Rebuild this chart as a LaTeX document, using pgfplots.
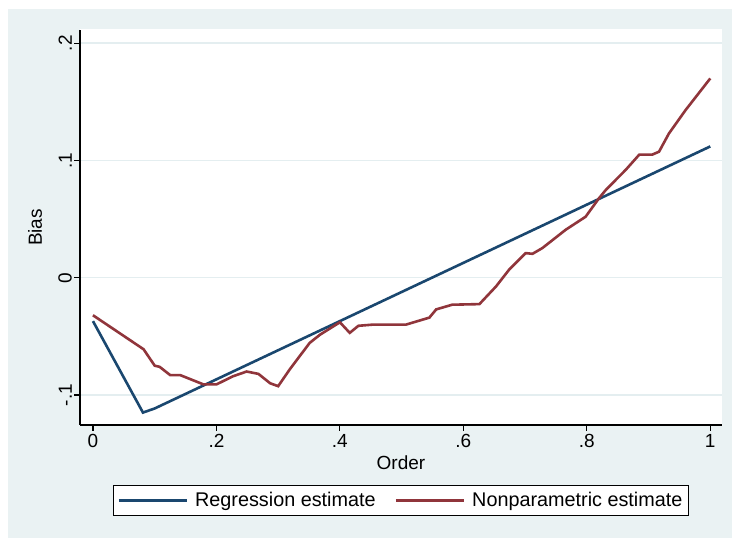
\documentclass[border=0pt]{standalone}
\usepackage{pgfplots}
\pgfplotsset{compat=1.18}
\usepackage{fontspec}
\setmainfont{Liberation Sans}
\definecolor{bgc}{HTML}{EAF2F3}
\definecolor{gridc}{HTML}{E4EEF0}
\definecolor{snavy}{HTML}{1A476F}
\definecolor{smaroon}{HTML}{90353B}
\begin{document}
\begin{tikzpicture}[x=1pt,y=1pt]
\path[use as bounding box,fill=white] (0,0) rectangle (732,538);
\fill[bgc] (8,0) rectangle (732,529);
\fill[white] (80,113) rectangle (722,509);
\begin{axis}[
  at={(80pt,113pt)}, anchor=south west,
  scale only axis, width=642pt, height=395pt,
  xmin=-0.021, xmax=1.019, ymin=-0.1256, ymax=0.2113,
  axis x line*=bottom, axis y line*=left,
  axis line style={black, line width=1.3pt},
  xtick={0,0.2,0.4,0.6,0.8,1}, xticklabels={0,.2,.4,.6,.8,1},
  ytick={-0.1,0,0.1,0.2}, yticklabels={-.1,0,.1,.2},
  tick align=outside, major tick length=6pt,
  tick style={black, line width=1.2pt},
  ymajorgrids, grid style={gridc, line width=1.5pt},
  ticklabel style={font=\fontsize{19}{22}\selectfont},
  yticklabel style={rotate=90, anchor=south, inner sep=2pt},
  xticklabel style={inner sep=3pt},
  xlabel={Order}, ylabel={Bias},
  label style={font=\fontsize{19}{22}\selectfont},
  xlabel style={at={(0.5,-0.095)}, anchor=center},
  ylabel style={at={(-0.07,0.5)}, anchor=center, rotate=0},
  legend columns=2,
  legend style={at={(0.5,-0.152)}, anchor=north, draw=black, line width=1.2pt, fill=white,
    font=\fontsize{19.8}{22}\selectfont, inner xsep=4pt, inner ysep=5pt,
    /tikz/every odd column/.append style={column sep=5pt},
    /tikz/every even column/.append style={column sep=17pt}},
  legend image code/.code={\draw[#1] (0pt,0pt) -- (68pt,0pt);},
  clip=false,
]
\addplot[snavy, line width=2.6pt] coordinates {(0,-0.037) (0.081,-0.115) (0.1,-0.1115) (1,0.112)};
\addlegendentry{Regression estimate}
\addplot[smaroon, line width=2.6pt] coordinates {
(0,-0.032) (0.082,-0.061) (0.10,-0.075) (0.108,-0.076) (0.125,-0.083) (0.141,-0.083)
(0.179,-0.091) (0.200,-0.091) (0.227,-0.084) (0.249,-0.080) (0.268,-0.082) (0.287,-0.090)
(0.300,-0.0925) (0.319,-0.078) (0.351,-0.0556) (0.368,-0.0485) (0.400,-0.038) (0.416,-0.047)
(0.430,-0.041) (0.453,-0.040) (0.507,-0.040) (0.545,-0.034) (0.556,-0.027) (0.582,-0.023)
(0.626,-0.0225) (0.653,-0.0074) (0.674,0.0068) (0.701,0.021) (0.712,0.0204) (0.728,0.0253)
(0.766,0.041) (0.798,0.052) (0.820,0.068) (0.831,0.075) (0.863,0.092) (0.885,0.105)
(0.906,0.105) (0.917,0.1075) (0.933,0.123) (0.960,0.143) (1.000,0.170)};
\addlegendentry{Nonparametric estimate}
\end{axis}
\end{tikzpicture}
\end{document}
